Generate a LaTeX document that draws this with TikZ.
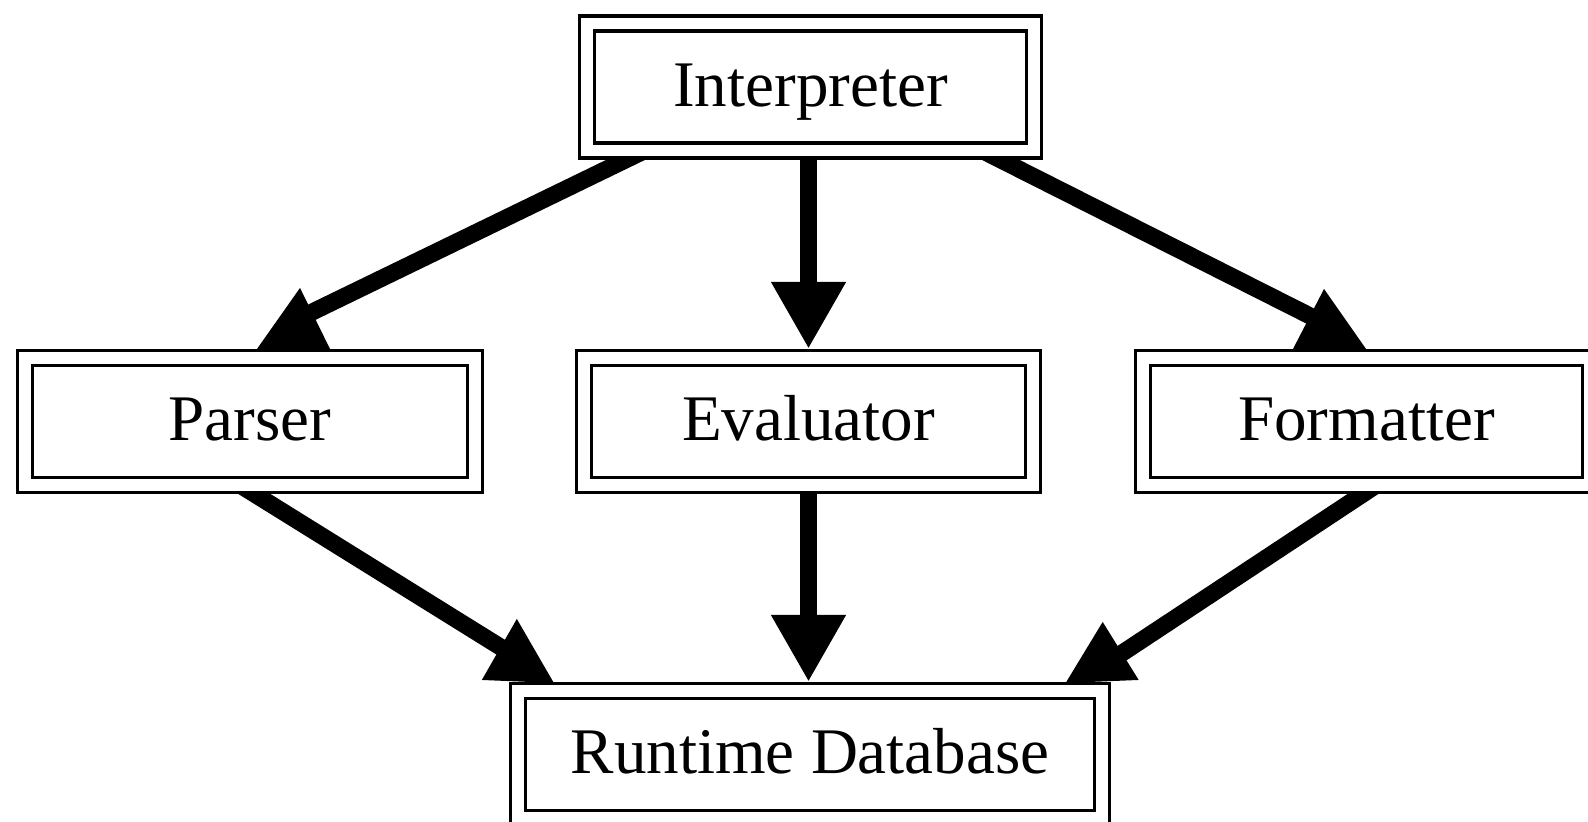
\documentclass[tikz,border=0pt]{standalone}
\usepackage{fontspec}
\setmainfont{Liberation Serif}
\usetikzlibrary{positioning, arrows.meta, calc, backgrounds}
\tikzset{
  block/.style={draw, line width=0.035cm, double, double distance=0.115cm, fill=white, inner sep=0pt, outer sep=0pt, minimum height=1.27cm, text height=0.5cm, text depth=0.12cm, font=\fontsize{18.5}{22}\selectfont},
  link/.style={line width=0.17cm},
  flow/.style={link, -{Triangle[length=0.67cm, width=0.70cm]}, shorten >=0.09cm},
  head/.style={fill=black}
}

\begin{document}
\begin{tikzpicture}[x=0.01cm, y=-0.01cm]
  \useasboundingbox (0,0) rectangle (1588,822);

  \node[block, minimum width=4.47cm] (Interp) at (810.5, 87) {Interpreter};
  \node[block, minimum width=4.50cm] (Parser) at (250, 421.5) {Parser};
  \node[block, minimum width=4.49cm] (Eval) at (808.5, 421.5) {Evaluator};
  \node[block, minimum width=4.47cm] (Format) at (1366.5, 421.5) {Formatter};
  \node[block, minimum width=5.84cm] (Runtime) at (810, 754.5) {Runtime Database};

  \begin{scope}[on background layer]
    % straight down
    \draw[flow] (Eval.north |- Interp.south) -- (Eval.north);
    \draw[flow] (Eval.south) -- (Eval.south |- Runtime.north);
    % slanted ones, heads drawn upright
    \draw[link] ($(Interp.south west)+(58,0)$) -- ($(Parser.north)+(50,-40)$);
    \fill[head] ($(Parser.north)+(50,-70)$) -- ($(Parser.north)+(7,-9)$) -- ($(Parser.north)+(80,-9)$) -- cycle;
    \draw[link] ($(Interp.south east)+(-52,0)$) -- ($(Format.north)+(-46.5,-37)$);
    \fill[head] ($(Format.north)+(-42.5,-69)$) -- ($(Format.north)+(-73.5,-9)$) -- ($(Format.north)+(-0.5,-9)$) -- cycle;
    \draw[link] ($(Parser.south)+(-10,0)$) -- ($(Runtime.north west)+(-3,-35)$);
    \fill[head] ($(Runtime.north west)+(-1,-72)$) -- ($(Runtime.north west)+(-36,-11)$) -- ($(Runtime.north west)+(36,-8)$) -- cycle;
    \draw[link] ($(Format.south)+(10,0)$) -- ($(Runtime.north east)+(3.5,-27)$);
    \fill[head] ($(Runtime.north east)+(0.5,-69)$) -- ($(Runtime.north east)+(-36.5,-8)$) -- ($(Runtime.north east)+(36.5,-11)$) -- cycle;
  \end{scope}
\end{tikzpicture}
\end{document}
